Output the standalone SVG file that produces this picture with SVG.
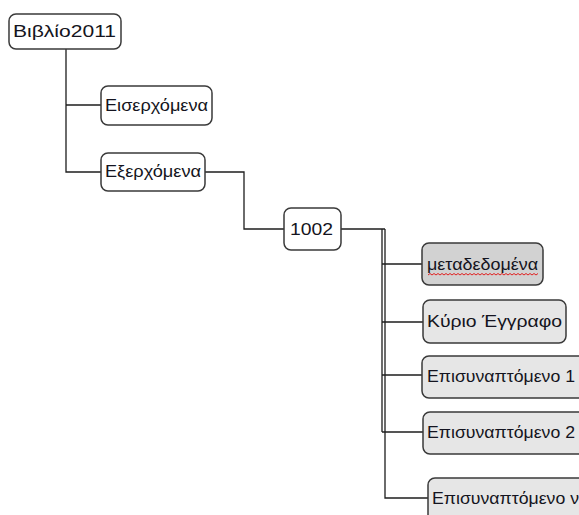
<svg xmlns="http://www.w3.org/2000/svg" width="579" height="515" viewBox="0 0 579 515">
<style>
.box{fill:#ffffff;stroke:#3a3a3a;stroke-width:1.5}
.g1{fill:#d2d2d2}
.g2{fill:#e6e6e6}
.lbl{font-family:"Liberation Sans","DejaVu Sans",sans-serif;font-size:16px;fill:#141420}
.conn{fill:none;stroke:#1e1e1e;stroke-width:1.3}
</style>
<rect width="579" height="515" fill="#ffffff"/>
<g id="connectors">
<path class="conn" d="M66,49 V172 H101 M66,105 H101"/>
<path class="conn" d="M205,172 H244 V229 H284"/>
<path class="conn" d="M341,229 H385 M382,229 V432 M382,264 H422 M382,322 H423 M382,375 H422 M382,432 H423"/>
<path class="conn" d="M385,229 V498 H428"/>
</g>
<g id="n-vivlio">
<rect class="box" x="9" y="14" width="112" height="35" rx="7"/>
<text class="lbl" x="13" y="37" textLength="103" lengthAdjust="spacingAndGlyphs">Βιβλίο2011</text>
</g>
<g id="n-eiserx">
<rect class="box" x="101" y="86" width="111" height="39" rx="7"/>
<text class="lbl" x="105" y="111" textLength="103" lengthAdjust="spacingAndGlyphs">Εισερχόμενα</text>
</g>
<g id="n-exerx">
<rect class="box" x="101" y="153" width="104" height="38" rx="7"/>
<text class="lbl" x="105" y="177" textLength="96" lengthAdjust="spacingAndGlyphs">Εξερχόμενα</text>
</g>
<g id="n-1002">
<rect class="box" x="284" y="208" width="57" height="42" rx="7"/>
<text class="lbl" x="290" y="235" textLength="43" lengthAdjust="spacingAndGlyphs">1002</text>
</g>
<g id="n-meta">
<rect class="box g1" x="422" y="243" width="121" height="42" rx="7"/>
<text class="lbl" x="427" y="270" textLength="111" lengthAdjust="spacingAndGlyphs">μεταδεδομένα</text>
<path d="M428,275 l2,-1.5 l2,1.5 l2,-1.5 l2,1.5 l2,-1.5 l2,1.5 l2,-1.5 l2,1.5 l2,-1.5 l2,1.5 l2,-1.5 l2,1.5 l2,-1.5 l2,1.5 l2,-1.5 l2,1.5 l2,-1.5 l2,1.5 l2,-1.5 l2,1.5 l2,-1.5 l2,1.5 l2,-1.5 l2,1.5 l2,-1.5 l2,1.5 l2,-1.5 l2,1.5 l2,-1.5 l2,1.5 l2,-1.5 l2,1.5 l2,-1.5 l2,1.5 l2,-1.5 l2,1.5 l2,-1.5 l2,1.5 l2,-1.5 l2,1.5 l2,-1.5 l2,1.5 l2,-1.5 l2,1.5 l2,-1.5 l2,1.5 l2,-1.5 l2,1.5 l2,-1.5 l2,1.5 l2,-1.5 l2,1.5 l2,-1.5 l2,1.5 l2,-1.5" fill="none" stroke="#e02020" stroke-width="1"/>
</g>
<g id="n-kyrio">
<rect class="box g2" x="423" y="300" width="143" height="43" rx="7"/>
<text class="lbl" x="427" y="327" textLength="135" lengthAdjust="spacingAndGlyphs">Κύριο Έγγραφο</text>
</g>
<g id="n-epis1">
<rect class="box g2" x="422" y="356" width="165" height="42" rx="7"/>
<text class="lbl" x="427" y="382" textLength="148" lengthAdjust="spacingAndGlyphs">Επισυναπτόμενο 1</text>
</g>
<g id="n-epis2">
<rect class="box g2" x="423" y="412" width="165" height="42" rx="7"/>
<text class="lbl" x="427" y="438" textLength="148" lengthAdjust="spacingAndGlyphs">Επισυναπτόμενο 2</text>
</g>
<g id="n-episn">
<rect class="box g2" x="428" y="478" width="165" height="50" rx="7"/>
<text class="lbl" x="432" y="504" textLength="147" lengthAdjust="spacingAndGlyphs">Επισυναπτόμενο ν</text>
</g>
</svg>
